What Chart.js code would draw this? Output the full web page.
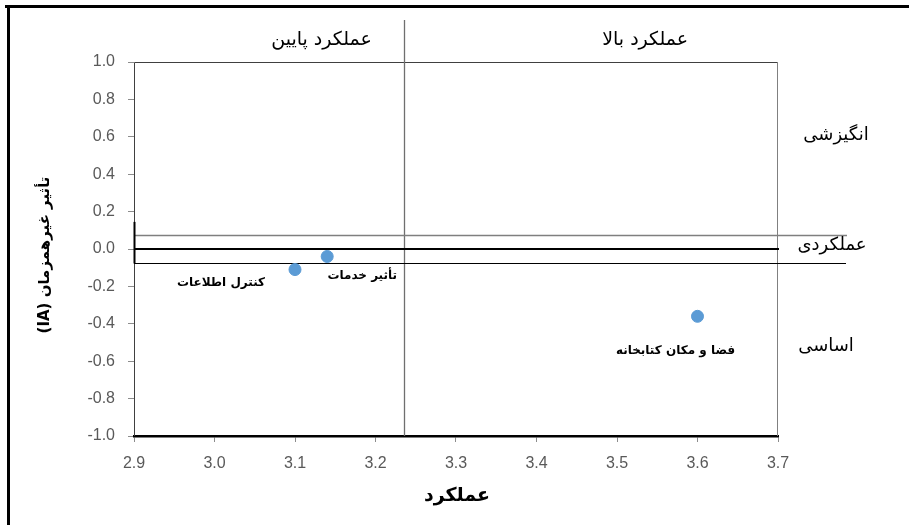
<!DOCTYPE html>
<html>
<head>
<meta charset="utf-8">
<script src="https://cdn.jsdelivr.net/npm/chart.js@4.4.1/dist/chart.umd.min.js"></script>
<style>
  html, body { margin: 0; padding: 0; background: #fff; }
  #wrap { width: 909px; height: 525px; position: relative; }
</style>
</head>
<body>
<div id="wrap"><canvas id="myChart" width="909" height="525"></canvas></div>
<script>
// data
const pointNames = ['کنترل اطلاعات', 'تأثیر خدمات', 'فضا و مکان کتابخانه'];
const performance = [3.10, 3.14, 3.60];
const impact = [-0.11, -0.04, -0.36];

const xMin = 2.9, xMax = 3.7, xStep = 0.1;
const yMin = -1.0, yMax = 1.0, yStep = 0.2;

const perfCut = 3.235;          // vertical split
const bandLow = -0.075, bandHigh = 0.075;

const topLabels = ['عملکرد پایین', 'عملکرد بالا'];
const topLabelX = [3.133, 3.535];
const sideLabels = ['انگیزشی', 'عملکردی', 'اساسی'];
const sideLabelY = [0.61, 0.02, -0.52];

const xTitle = 'عملکرد';
const yTitle = 'تأثیر غیرهمزمان (IA)';

// label offsets (px) from each point / chart edge
const labelOffsets = [[-74, 13], [35, 19], [-22, 35]];
const sideLabelDx = [58, 54, 48];

const arabicFont = '"DejaVu Sans", sans-serif';

const points = performance.map((x, i) => ({ x: x, y: impact[i] }));

function fmt(v) {
    if (Math.abs(v) < 1e-9) return '0.0';
    return v.toFixed(1);
}

const decorations = {
    id: 'decorations',
    beforeDraw(chart) {
        const ctx = chart.ctx;
        ctx.save();
        ctx.fillStyle = '#fff';
        ctx.fillRect(0, 0, chart.width, chart.height);
        // outer frame
        ctx.fillStyle = '#000';
        ctx.fillRect(5, 5, chart.width - 5, 3);
        ctx.fillRect(7, 5, 3, chart.height - 5);
        ctx.restore();
    },
    beforeDatasetsDraw(chart) {
        const ctx = chart.ctx;
        const a = chart.chartArea;
        const xs = chart.scales.x, ys = chart.scales.y;
        ctx.save();
        // plot frame
        ctx.strokeStyle = '#404040';
        ctx.lineWidth = 1;
        ctx.beginPath();
        ctx.moveTo(a.left + 0.5, a.bottom);
        ctx.lineTo(a.left + 0.5, a.top + 0.5);
        ctx.lineTo(a.right - 0.5, a.top + 0.5);
        ctx.stroke();
        ctx.strokeStyle = '#808080';
        ctx.beginPath();
        ctx.moveTo(a.right - 0.5, a.top);
        ctx.lineTo(a.right - 0.5, a.bottom);
        ctx.stroke();

        // vertical split
        const vx = Math.round(xs.getPixelForValue(perfCut)) + 0.5;
        ctx.strokeStyle = '#6f6f6f';
        ctx.lineWidth = 1.3;
        ctx.beginPath();
        ctx.moveTo(vx, 20);
        ctx.lineTo(vx, a.bottom);
        ctx.stroke();

        // horizontal band
        const yHi = Math.round(ys.getPixelForValue(bandHigh)) + 0.5;
        const y0 = Math.round(ys.getPixelForValue(0));
        const yLo = Math.round(ys.getPixelForValue(bandLow)) + 0.5;
        ctx.strokeStyle = '#7f7f7f';
        ctx.lineWidth = 1.5;
        ctx.beginPath();
        ctx.moveTo(a.left, yHi);
        ctx.lineTo(847, yHi);
        ctx.stroke();
        ctx.strokeStyle = '#000';
        ctx.lineWidth = 1;
        ctx.beginPath();
        ctx.moveTo(a.left, yLo);
        ctx.lineTo(846, yLo);
        ctx.stroke();
        ctx.lineWidth = 2;
        ctx.beginPath();
        ctx.moveTo(a.left, y0);
        ctx.lineTo(a.right + 1, y0);
        ctx.stroke();
        // short dark piece on the left edge
        ctx.lineWidth = 2;
        ctx.beginPath();
        ctx.moveTo(a.left + 0.5, ys.getPixelForValue(0.145));
        ctx.lineTo(a.left + 0.5, yLo);
        ctx.stroke();
        ctx.restore();
    },
    afterDatasetsDraw(chart) {
        const ctx = chart.ctx;
        const a = chart.chartArea;
        const xs = chart.scales.x, ys = chart.scales.y;
        ctx.save();
        ctx.fillStyle = '#000';
        ctx.textAlign = 'center';
        ctx.textBaseline = 'middle';
        ctx.direction = 'rtl';

        // point labels
        ctx.font = 'bold 12px ' + arabicFont;
        pointNames.forEach((name, i) => {
            const px = xs.getPixelForValue(performance[i]) + labelOffsets[i][0];
            const py = ys.getPixelForValue(impact[i]) + labelOffsets[i][1];
            ctx.fillText(name, px, py);
        });

        // top labels
        ctx.font = '19px ' + arabicFont;
        topLabels.forEach((t, i) => {
            ctx.fillText(t, xs.getPixelForValue(topLabelX[i]), 40);
        });

        // side labels
        ctx.font = '18px ' + arabicFont;
        sideLabels.forEach((t, i) => {
            ctx.fillText(t, a.right + sideLabelDx[i], ys.getPixelForValue(sideLabelY[i]));
        });

        // axis titles
        ctx.font = 'bold 19px ' + arabicFont;
        ctx.fillText(xTitle, (a.left + a.right) / 2 + 1, 496);

        ctx.save();
        ctx.translate(45, ys.getPixelForValue(0) + 6);
        ctx.rotate(-Math.PI / 2);
        ctx.font = 'bold 15px ' + arabicFont;
        ctx.fillText(yTitle, 0, 0);
        ctx.restore();

        ctx.restore();
    }
};

const ctx = document.getElementById('myChart').getContext('2d');
const chart = new Chart(ctx, {
    type: 'scatter',
    data: {
        datasets: [{
            label: 'IPA',
            data: points,
            backgroundColor: '#5b9bd5',
            borderColor: '#5b9bd5',
            pointRadius: 6,
            pointHoverRadius: 6
        }]
    },
    options: {
        responsive: false,
        animation: false,
        events: [],
        layout: {
            padding: { top: 62, right: 131, bottom: 0, left: 0 }
        },
        plugins: {
            legend: { display: false },
            tooltip: { enabled: false }
        },
        scales: {
            x: {
                type: 'linear',
                min: xMin,
                max: xMax,
                afterFit(scale) { scale.height = 89; },
                ticks: {
                    stepSize: xStep,
                    padding: 12,
                    color: '#595959',
                    font: { family: 'Liberation Sans', size: 16 },
                    callback: v => fmt(v)
                },
                grid: {
                    drawOnChartArea: false,
                    drawTicks: true,
                    tickLength: 6,
                    color: '#8c8c8c'
                },
                border: { display: true, color: '#000', width: 2.5 }
            },
            y: {
                type: 'linear',
                min: yMin,
                max: yMax,
                afterFit(scale) { scale.width = 134; },
                ticks: {
                    stepSize: yStep,
                    padding: 13,
                    color: '#595959',
                    font: { family: 'Liberation Sans', size: 16 },
                    callback: v => fmt(v)
                },
                grid: {
                    drawOnChartArea: false,
                    drawTicks: true,
                    tickLength: 6,
                    color: '#8c8c8c'
                },
                border: { display: false }
            }
        }
    },
    plugins: [decorations]
});
</script>
</body>
</html>
